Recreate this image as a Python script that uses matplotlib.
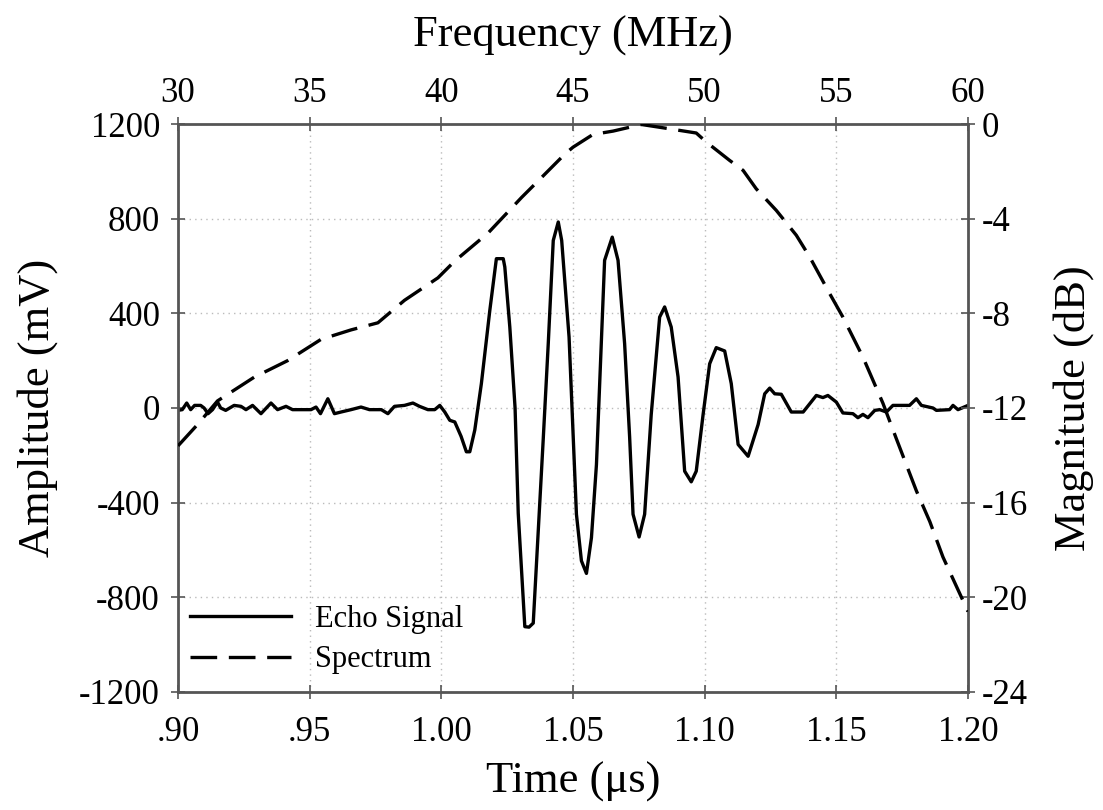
import numpy as np
import matplotlib
matplotlib.use("Agg")
import matplotlib.pyplot as plt

plt.rcParams['font.family'] = ['Liberation Serif', 'DejaVu Serif']
plt.rcParams['axes.unicode_minus'] = False

# echo signal: time (us) vs amplitude (mV)
time_us = [0.9000, 0.9016, 0.9033, 0.9048, 0.9063, 0.9086, 0.9099, 0.9114, 0.9131, 0.9150,
           0.9162, 0.9181, 0.9213, 0.9239, 0.9258, 0.9283, 0.9315, 0.9353, 0.9378, 0.9410,
           0.9435, 0.9505, 0.9524, 0.9541, 0.9569, 0.9594, 0.9619, 0.9657, 0.9695, 0.9727,
           0.9772, 0.9797, 0.9822, 0.9860, 0.9892, 0.9917, 0.9949, 0.9975, 0.9994, 1.0013,
           1.0032, 1.0051, 1.0075, 1.0095, 1.0108, 1.0127, 1.0152, 1.0184, 1.0209, 1.0235,
           1.0241, 1.0260, 1.0280, 1.0292, 1.0317, 1.0333, 1.0349, 1.0387, 1.0406, 1.0425,
           1.0444, 1.0457, 1.0485, 1.0513, 1.0532, 1.0551, 1.0570, 1.0589, 1.0620, 1.0649,
           1.0671, 1.0696, 1.0715, 1.0728, 1.0751, 1.0772, 1.0797, 1.0829, 1.0848, 1.0873,
           1.0899, 1.0924, 1.0949, 1.0968, 1.0994, 1.1019, 1.1044, 1.1076, 1.1101, 1.1127,
           1.1165, 1.1203, 1.1228, 1.1247, 1.1266, 1.1291, 1.1329, 1.1374, 1.1424, 1.1449,
           1.1468, 1.1500, 1.1525, 1.1563, 1.1582, 1.1601, 1.1620, 1.1646, 1.1665, 1.1690,
           1.1715, 1.1778, 1.1804, 1.1823, 1.1867, 1.1880, 1.1930, 1.1943, 1.1962, 1.2000]
amplitude_mv = [-10, -7, 21, -7, 11, 11, 0, -24, -7, 25,
                0, -10, 11, 7, -7, 11, -24, 21, -7, 7,
                -7, -7, 4, -24, 39, -24, -17, -7, 4, -7,
                -7, -24, 7, 11, 21, 7, -7, -7, 11, -17,
                -52, -59, -120, -185, -185, -93, 103, 412, 631, 631,
                596, 342, 0, -445, -924, -926, -909, -130, 272, 708,
                786, 708, 300, -449, -646, -699, -548, -239, 624, 722,
                624, 272, -122, -449, -545, -449, -28, 384, 427, 342,
                131, -267, -312, -267, -28, 187, 255, 241, 103, -154,
                -204, -70, 60, 84, 60, 58, -17, -17, 53, 44,
                53, 25, -21, -24, -41, -27, -41, -10, -7, -17,
                11, 11, 39, 11, 0, -10, -7, 11, -7, 11]

# spectrum: frequency (MHz) vs magnitude (dB)
freq_mhz = [30.0, 30.74, 31.5, 32.89, 34.16, 35.43, 36.57, 37.59, 38.6, 39.87,
            40.5, 41.78, 43.05, 43.68, 44.7, 45.0, 45.76, 46.52, 47.6, 48.42,
            49.68, 50.06, 50.95, 51.46, 51.96, 52.72, 53.48, 53.99, 54.75, 55.25,
            56.01, 56.77, 57.28, 58.04, 58.55, 59.05, 60.0]
magnitude_db = [-13.6, -12.7, -11.7, -10.7, -10.0, -9.1, -8.7, -8.4, -7.45, -6.5,
                -5.8, -4.6, -3.1, -2.4, -1.26, -0.98, -0.44, -0.3, -0.02, -0.16,
                -0.38, -0.76, -1.54, -1.96, -2.74, -3.65, -4.7, -5.62, -7.17, -8.16,
                -9.85, -11.8, -13.3, -15.5, -16.8, -18.3, -20.6]

time_ticks = [0.90, 0.95, 1.00, 1.05, 1.10, 1.15, 1.20]
time_labels = ['.90', '.95', '1.00', '1.05', '1.10', '1.15', '1.20']
amp_ticks = [-1200, -800, -400, 0, 400, 800, 1200]
freq_ticks = [30, 35, 40, 45, 50, 55, 60]
db_ticks = [-24, -20, -16, -12, -8, -4, 0]

fig = plt.figure(figsize=(11.03, 8.10), dpi=100)
pos = [0.1614, 0.1457, 0.7162, 0.7012]
ax = fig.add_axes(pos)
axs = fig.add_axes(pos, frameon=False)

spine_col = '#555555'
l1, = ax.plot(time_us, amplitude_mv, color='black', lw=2.4, label='Echo Signal')
ax.set_xlim(0.9, 1.2)
ax.set_ylim(-1200, 1200)
ax.set_xticks(time_ticks)
ax.set_xticklabels(time_labels)
ax.set_yticks(amp_ticks)
ax.grid(True, linestyle=(0, (1, 3)), color='#bbbbbb', lw=1.0)
ax.set_xlabel('Time (\u03bcs)', fontsize=32, labelpad=9)
ax.set_ylabel('Amplitude (mV)', fontsize=32, labelpad=15)
ax.tick_params(direction='inout', length=10, width=1.2, color=spine_col, labelsize=25)
ax.tick_params(axis='x', pad=12)
ax.tick_params(axis='y', pad=8)
for s in ax.spines.values():
    s.set_color(spine_col)
    s.set_linewidth(2)

l2, = axs.plot(freq_mhz, magnitude_db, color='black', lw=2.4,
               dashes=(8, 3.5), label='Spectrum')
axs.set_xlim(30, 60)
axs.set_ylim(-24, 0)
axs.set_xticks(freq_ticks)
axs.set_yticks(db_ticks)
axs.xaxis.tick_top()
axs.xaxis.set_label_position('top')
axs.yaxis.tick_right()
axs.yaxis.set_label_position('right')
axs.set_xlabel('Frequency (MHz)', fontsize=32, labelpad=22)
axs.set_ylabel('Magnitude (dB)', fontsize=32, labelpad=18)
axs.tick_params(direction='inout', length=10, width=1.2, color=spine_col, labelsize=25, pad=5)

ax.legend(handles=[l1, l2], loc='lower left', bbox_to_anchor=(-0.016, -0.012),
          frameon=False, fontsize=22, handlelength=3.3, handletextpad=0.8,
          labelspacing=0.38, borderaxespad=0.4)

fig.savefig('out.png', dpi=100)
